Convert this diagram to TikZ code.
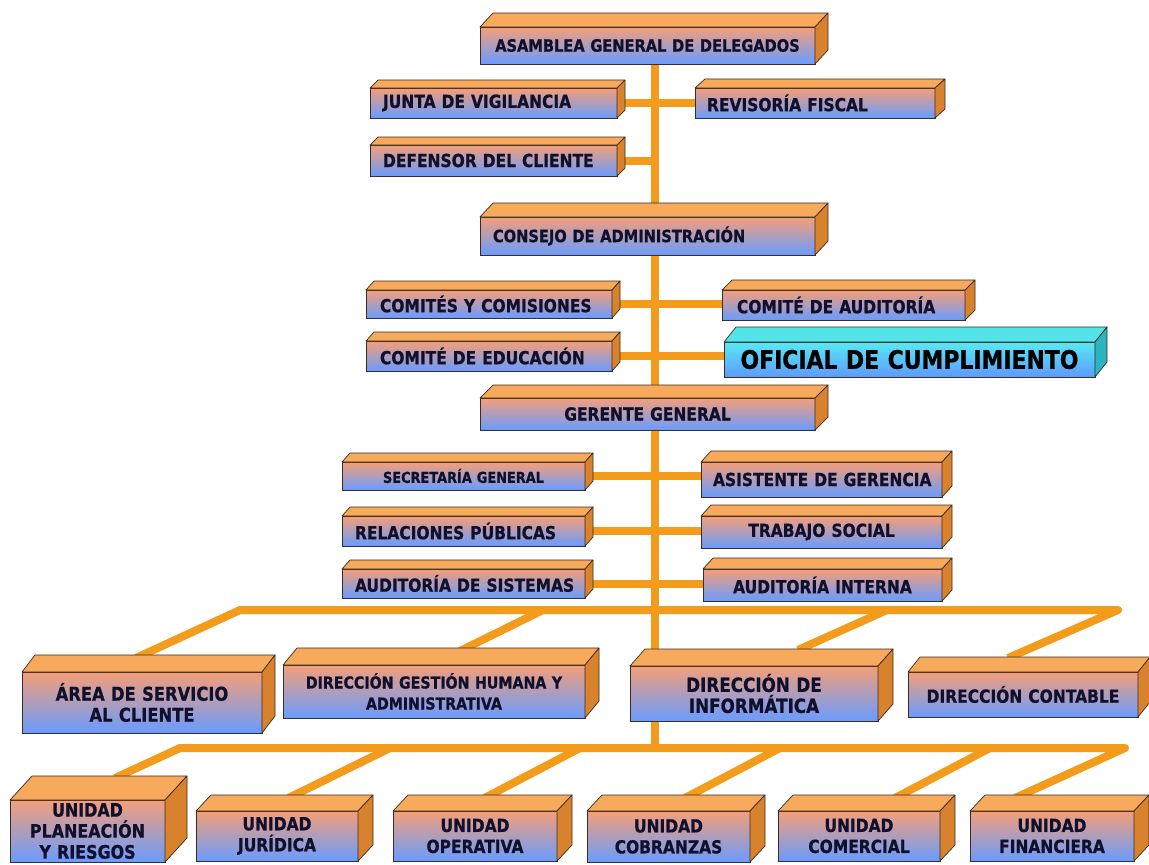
\documentclass[tikz,border=0pt]{standalone}
\usepackage{fontspec}
\setmainfont{DejaVu Sans}[FakeStretch=0.86, BoldFeatures={FakeBold=0.8}]
\usetikzlibrary{calc}
\pgfdeclarelayer{bg}\pgfsetlayers{bg,main}
\definecolor{topC}{HTML}{F8AA5C}
\definecolor{sideC}{HTML}{D8822E}
\definecolor{frontT}{HTML}{F59E78}
\definecolor{frontB}{HTML}{699CFF}
\definecolor{edgeC}{HTML}{3A2C22}
\definecolor{txtC}{HTML}{10102C}
\definecolor{lineC}{HTML}{F39C1B}
\definecolor{cyTop}{HTML}{52E4E8}
\definecolor{cySide}{HTML}{2BB5BE}
\definecolor{cyT}{HTML}{58E9F2}
\definecolor{cyB}{HTML}{5C9BFF}
\def\padx{0pt}
\newcommand\cubebox[9][]{%
  \begin{scope}[#1]
  \node[box,minimum width={(#5-#3)*1pt},minimum height={(#6-#4)*1pt},text width={(#5-#3)*1pt-2*\padx},inner xsep=\padx] (#2) at ({(#3+#5)/2},{(#4+#6)/2}) {#9};
  \filldraw[topf] (#2.north west) -- ++(#7,-#8) -- ([shift={(#7,-#8)}]#2.north east) -- (#2.north east) -- cycle;
  \filldraw[sidef] (#2.north east) -- ++(#7,-#8) -- ([shift={(#7,-#8)}]#2.south east) -- (#2.south east) -- cycle;
  \end{scope}}
\begin{document}
\begin{tikzpicture}[x=1pt,y=-1pt,
 box/.style={draw=edgeC,line width=0.7pt,top color=frontT,bottom color=frontB,inner ysep=0pt,outer sep=0pt,align=center,text=txtC,font=\bfseries\fontsize{18}{21}\selectfont},
 topf/.style={fill=topC,draw=edgeC,line width=0.7pt,line join=round},
 sidef/.style={fill=sideC,draw=edgeC,line width=0.7pt,line join=round},
 lefttxt/.style={/utils/exec={\def\padx{#1}},box/.append style={align=left}},
 lefttxt/.default=13pt,
 fs/.style={box/.append style={font=\bfseries\fontsize{#1}{21}\selectfont}},
 cyanth/.style={box/.append style={top color=cyT,bottom color=cyB,font=\bfseries\fontsize{25.5}{30}\selectfont,text=black},topf/.append style={fill=cyTop},sidef/.append style={fill=cySide}},
 conn/.style={draw=lineC,line width=8pt,line join=round}]
\useasboundingbox (0,0) rectangle (1149,865);

\cubebox[fs=17]{asamblea}{480}{27}{815}{64}{13}{14}{ASAMBLEA GENERAL DE DELEGADOS}
\cubebox[lefttxt]{junta}{370}{88}{617}{118}{8}{8}{\mbox{JUNTA DE VIGILANCIA}}
\cubebox[lefttxt=12pt]{revisoria}{695}{88}{935}{118}{10}{9}{\mbox{REVISORÍA FISCAL}}
\cubebox[lefttxt]{defensor}{370}{145}{617}{176}{8}{8}{\mbox{DEFENSOR DEL CLIENTE}}
\cubebox[fs=17,lefttxt]{consejo}{480}{217}{815}{255}{13}{14}{\mbox{CONSEJO DE ADMINISTRACIÓN}}
\cubebox[lefttxt=14pt]{comites}{366}{290}{612}{318}{8}{9}{\mbox{COMITÉS Y COMISIONES}}
\cubebox[lefttxt=15pt]{audcom}{722}{290}{965}{320}{10}{10}{\mbox{COMITÉ DE AUDITORÍA}}
\cubebox[lefttxt=14pt]{educacion}{366}{341}{612}{371}{8}{9}{\mbox{COMITÉ DE EDUCACIÓN}}
\cubebox[cyanth]{oficial}{724}{342}{1095}{377}{12}{15}{OFICIAL DE CUMPLIMIENTO}
\cubebox{gerente}{480}{398}{815}{430}{13}{13}{GERENTE GENERAL}
\cubebox[fs=15]{secretaria}{342}{462}{585}{490}{8}{9}{SECRETARÍA GENERAL}
\cubebox[lefttxt=12pt]{asistente}{701}{462}{942}{497}{10}{11}{\mbox{ASISTENTE DE GERENCIA}}
\cubebox[lefttxt]{relaciones}{342}{516}{585}{546}{8}{9}{\mbox{RELACIONES PÚBLICAS}}
\cubebox{trabajo}{701}{516}{942}{548}{10}{11}{TRABAJO SOCIAL}
\cubebox[lefttxt]{audsis}{342}{569}{585}{598}{8}{9}{\mbox{AUDITORÍA DE SISTEMAS}}
\cubebox{audint}{703}{569}{942}{601}{10}{11}{AUDITORÍA INTERNA}
\cubebox[fs=19]{area}{22}{672}{262}{733}{13}{17}{ÁREA DE SERVICIO\\AL CLIENTE}
\cubebox[fs=16.5]{gestion}{283}{665}{585}{718}{14}{17}{DIRECCIÓN GESTIÓN HUMANA Y\\ADMINISTRATIVA}
\cubebox[fs=19.5]{informatica}{630}{666}{878}{721}{15}{17}{DIRECCIÓN DE\\INFORMÁTICA}
\cubebox{contable}{908}{672}{1138}{717}{12}{15}{DIRECCIÓN CONTABLE}
\cubebox[fs=18.5]{planeacion}{10}{800}{165}{862}{22}{24}{UNIDAD\\PLANEACIÓN\\Y RIESGOS}
\cubebox{juridica}{196}{811}{358}{861}{15}{16}{UNIDAD\\JURÍDICA}
\cubebox{operativa}{393}{811}{557}{861}{15}{16}{UNIDAD\\OPERATIVA}
\cubebox{cobranzas}{587}{811}{750}{862}{15}{16}{UNIDAD\\COBRANZAS}
\cubebox{comercial}{778}{811}{940}{861}{15}{16}{UNIDAD\\COMERCIAL}
\cubebox{financiera}{970}{811}{1134}{861}{15}{16}{UNIDAD\\FINANCIERA}

\coordinate (trunkend) at (655,748);
\coordinate (b1L) at (240,610);
\coordinate (b1G) at (543,610);
\coordinate (b1I) at (887,610);
\coordinate (b1R) at (1118,610);
\coordinate (b2L) at (180,748);
\coordinate (b2J) at (390,748);
\coordinate (b2O) at (580,748);
\coordinate (b2C) at (780,748);
\coordinate (b2M) at (990,748);
\coordinate (b2R) at (1125,748);

\begin{pgfonlayer}{bg}
\fill[white] (0,0) rectangle (1149,865);
\draw[conn] (trunkend |- asamblea.south) -- (trunkend);
\draw[conn] (junta.east) -- (revisoria.west);
\draw[conn] (defensor.east) -- (defensor.east -| trunkend);
\draw[conn] (comites.east) -- (comites.east -| audcom.west);
\draw[conn] (educacion.east) -- (educacion.east -| oficial.west);
\draw[conn] (secretaria.east) -- (secretaria.east -| asistente.west);
\draw[conn] (relaciones.east) -- (relaciones.east -| trabajo.west);
\draw[conn] (audsis.east) -- (audsis.east -| audint.west);
\draw[conn] ([shift={(-6,-14)}]area.north) -- (b1L) -- (b1R) -- ([shift={(-15,-14)}]contable.north);
\draw[conn] (b1G) -- ([shift={(26,-14)}]gestion.north);
\draw[conn] (b1I) -- ([shift={(44,-16)}]informatica.north);
\draw[conn] ([shift={(27.5,-22)}]planeacion.north) -- (b2L) -- (b2R) -- ([shift={(-37,-13)}]financiera.north);
\draw[conn] (b2J) -- ([shift={(11.5,-13)}]juridica.north);
\draw[conn] (b2O) -- ([shift={(9.5,-13)}]operativa.north);
\draw[conn] (b2C) -- ([shift={(16.5,-13)}]cobranzas.north);
\draw[conn] (b2M) -- ([shift={(36,-13)}]comercial.north);
\end{pgfonlayer}
\end{tikzpicture}
\end{document}
